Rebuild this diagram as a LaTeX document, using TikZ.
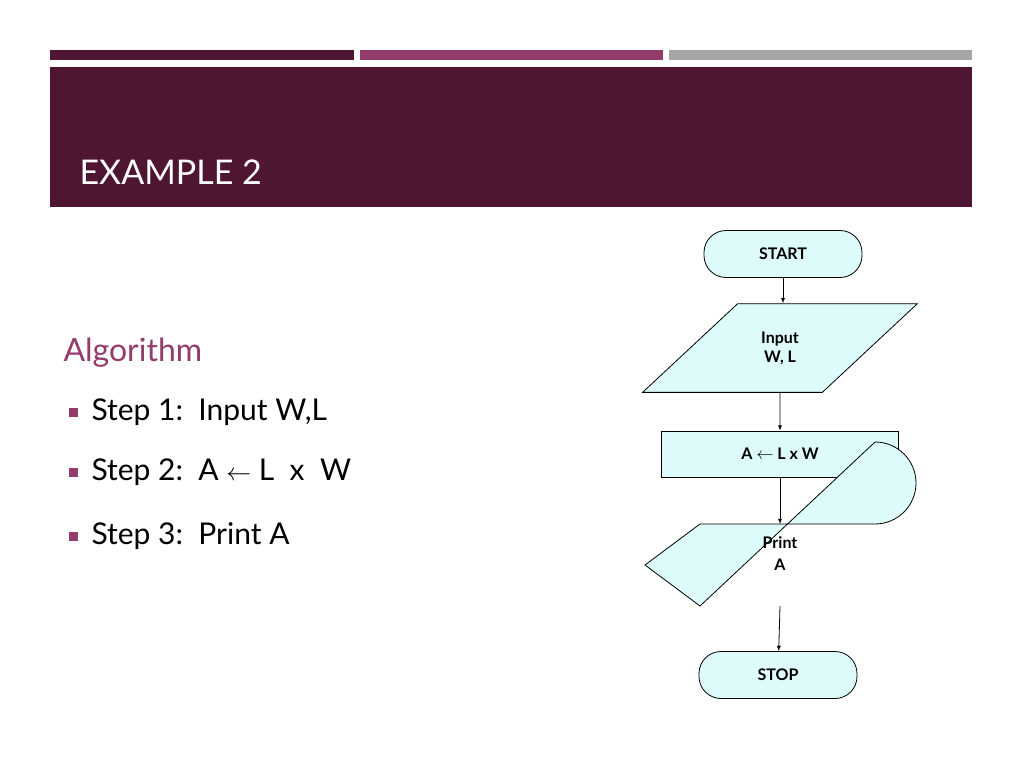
\documentclass[tikz,border=0pt]{standalone}
\usepackage{fontspec}
\setmainfont{Lato}
\usepackage{tikz}
\usetikzlibrary{arrows,shapes}
\usetikzlibrary{positioning}
\definecolor{plum}{HTML}{4E1633}
\definecolor{berry}{HTML}{933B6B}
\definecolor{steel}{HTML}{A6A6A6}
\definecolor{pale}{HTML}{DDFBFB}
\tikzset{
    terminal/.style={draw=black, fill=pale, rounded corners=22pt, line width=0.8pt,
        minimum width=158pt, minimum height=47pt, font=\fontsize{16}{18}\selectfont\bfseries},
    procbox/.style={draw=black, fill=pale, line width=0.8pt,
        minimum width=237pt, minimum height=46pt, font=\fontsize{16}{18}\selectfont\bfseries},
    iobox/.style={trapezium, trapezium left angle=43, trapezium right angle=137,
        draw=black, fill=pale, line width=0.8pt, minimum height=70pt, minimum width=275pt,
        inner xsep=0pt, font=\fontsize{16}{19}\selectfont\bfseries, align=center},
    flow/.style={-latex, line width=0.8pt},
    stepline/.style={anchor=west, font=\fontsize{30}{34}\selectfont},
    bulletsq/.style={fill=berry, minimum size=9pt, inner sep=0pt},
}
\begin{document}
\begin{tikzpicture}[x=1pt, y=-1pt]
	\useasboundingbox (0,0) rectangle (1024,768);
	% banner
	\fill[plum] (50,50) rectangle (354,60);
	\fill[berry] (360,50) rectangle (663,60);
	\fill[steel] (669,50) rectangle (972,60);
	\fill[plum] (50,67) rectangle (972,207);
	\node[anchor=base west, text=white, font=\fontsize{34}{38}\selectfont] (title) at (76,184) {EXAMPLE 2};
	% algorithm text
	\node[anchor=base west, text=berry, font=\fontsize{32}{36}\selectfont] (algo) at (60,361) {Algorithm};
	\foreach \y/\txt [count=\i] in {412/{Step 1:\ \ Input W,L}, 472/{Step 2:\ \ A $\leftarrow$ L\ \ x\ \ W}, 536/{Step 3:\ \ Print A}}{
		\node[bulletsq] (b\i) at (73,\y) {};
		\node[stepline] (s\i) at (88,\y) {\txt};
	}
	% flowchart
	\node[terminal] (start) at (783,254) {START};
	\node[iobox] (input) at (780,348) {Input\\W, L};
	\node[procbox] (calc) at (780,454) {A $\leftarrow$ L x W};
	\coordinate (dtop) at (780,524);
	\coordinate (dbot) at (780,606);
	\filldraw[draw=black, fill=pale, line width=0.8pt] (645,565) -- (700,524) -- (875,524)
		arc (90:-90:41) -- (700,606) -- cycle;
	\node[align=center, font=\fontsize{16}{22}\selectfont\bfseries] (print) at (780,554) {Print\\A};
	\node[terminal] (stop) at (778,675) {STOP};
	\draw[flow] (start) -- (start |- input.north);
	\draw[flow] (input) -- (calc);
	\draw[flow] (calc) -- (dtop);
	\draw[flow] (dbot) -- (stop);
\end{tikzpicture}
\end{document}
